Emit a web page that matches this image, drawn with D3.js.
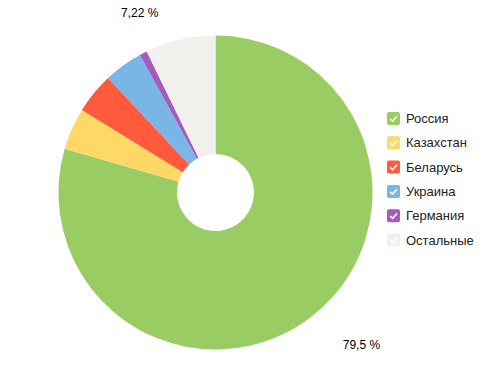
<!DOCTYPE html>
<html>
<head>
<meta charset="utf-8">
<script src="https://cdn.jsdelivr.net/npm/d3@7"></script>
<style>
  body { margin: 0; background: #fff; }
  text { font-family: "Liberation Sans", Arial, sans-serif; }
</style>
</head>
<body>
<script>
var w = 500;
var h = 366;

// data
var countries = ["Россия", "Казахстан", "Беларусь", "Украина", "Германия", "Остальные"];
var shares = [79.5, 4.3, 4.2, 4.0, 0.78, 7.22];
var shareLabels = ["79,5 %", "", "", "", "", "7,22 %"];
var colors = ["#9acc64", "#ffd865", "#ff5a3c", "#7ab5e7", "#a35cbd", "#f2f0ed"];

var cx = 215.5, cy = 192.5;
var rOuter = 157, rInner = 38.5;

var svg = d3.select("body").append("svg")
    .attr("width", w)
    .attr("height", h);

var pie = d3.pie().sort(null).value(function(d) { return d; });
var arcs = pie(shares);

var arc = d3.arc().innerRadius(rInner).outerRadius(rOuter);

var g = svg.append("g").attr("transform", "translate(" + cx + "," + cy + ")");

g.selectAll("path.slice")
    .data(arcs)
    .enter().append("path")
    .attr("class", "slice")
    .attr("d", arc)
    .attr("fill", function(d, i) { return colors[i]; });

// value labels outside the ring
function labelPos(d) {
    var big = d.index === 0;
    var a = d.startAngle + (d.endAngle - d.startAngle) * (big ? 0.476 : 0.12);
    var r = big ? 211 : 195;
    return [Math.sin(a) * r, -Math.cos(a) * r];
}

g.selectAll("text.val")
    .data(arcs.filter(function(d, i) { return shareLabels[i] !== ""; }))
    .enter().append("text")
    .attr("class", "val")
    .attr("text-anchor", "middle")
    .attr("font-size", 12)
    .attr("fill", "#000")
    .attr("x", function(d) { return labelPos(d)[0]; })
    .attr("y", function(d) { return labelPos(d)[1] + 4; })
    .text(function(d) { return shareLabels[d.index]; });

// legend
var legend = svg.append("g").attr("transform", "translate(387,112)");
var row = legend.selectAll("g")
    .data(countries)
    .enter().append("g")
    .attr("transform", function(d, i) { return "translate(0," + (i * 24.3) + ")"; });

row.append("rect")
    .attr("width", 13)
    .attr("height", 13)
    .attr("rx", 2)
    .attr("ry", 2)
    .attr("fill", function(d, i) { return colors[i]; });

row.append("path")
    .attr("d", "M3.2,6.8 L5.6,9.2 L10,4.2")
    .attr("fill", "none")
    .attr("stroke", "#fff")
    .attr("stroke-width", 1.6);

row.append("text")
    .attr("x", 19)
    .attr("y", 11)
    .attr("font-size", 13)
    .attr("fill", "#222")
    .text(function(d) { return d; });
</script>
</body>
</html>
